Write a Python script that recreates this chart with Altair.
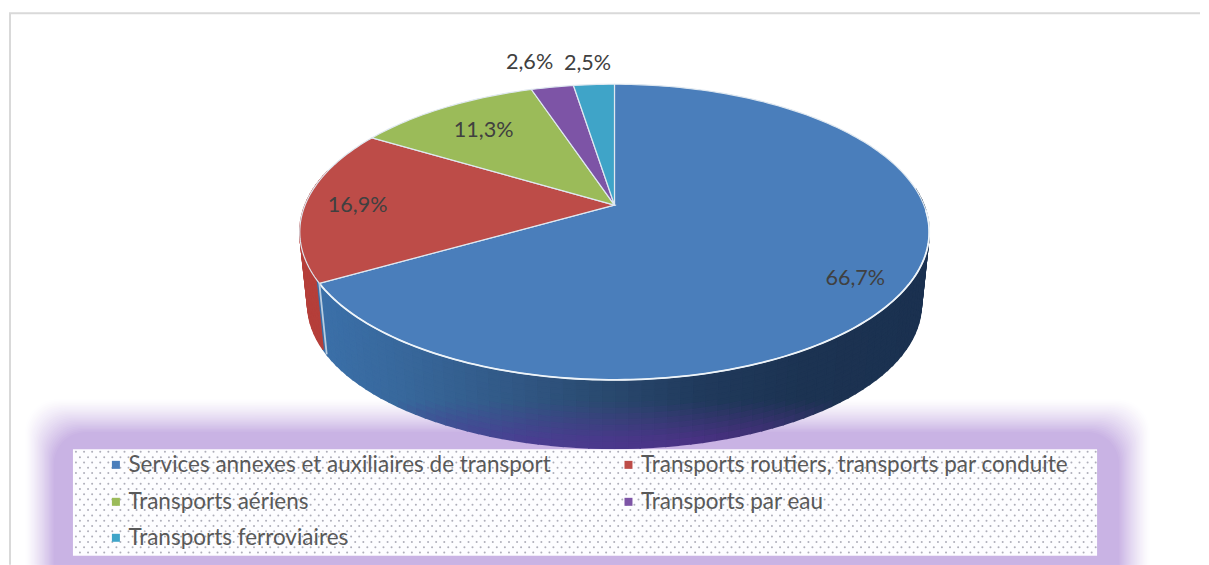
import math
import altair as alt
import pandas as pd

categories = ["Services annexes et auxiliaires de transport",
              "Transports routiers, transports par conduite",
              "Transports aériens", "Transports par eau", "Transports ferroviaires"]
shares = [66.7, 16.9, 11.3, 2.6, 2.5]
labels = ["66,7%", "16,9%", "11,3%", "2,6%", "2,5%"]
colors = ["#4a7ebb", "#bd4c48", "#9bbb59", "#7d54a6", "#3fa4c8"]
label_x = [856, 358, 484, 530, 588]
label_y = [279, 205.5, 130.5, 62.5, 64]
legend_x = [116, 629, 116, 629, 116]
legend_y = [465, 465, 502, 502, 538]

CX, CY, A, B, K = 615.0, 205.0, 309.7, 143.0, 0.1825
DY, S = 73.0, 0.975


def rim(deg, lower=0.0):
    t = math.radians(deg)
    w = 1 + K * math.cos(t)
    s = 1 - (1 - S) * lower
    return [CX + s * A * math.sin(t) / w, CY + DY * lower - s * B * math.cos(t) / w]


def lerp(a, b, t):
    return [a[i] + (b[i] - a[i]) * t for i in range(3)]


def rgb(h):
    return [int(h[i:i + 2], 16) for i in (1, 3, 5)]


def hexc(c):
    return "#%02x%02x%02x" % tuple(int(round(v)) for v in c)


def feature(ring, color, stroke):
    return {"type": "Feature", "geometry": {"type": "Polygon", "coordinates": [ring + [ring[0]]]},
            "properties": {"fill": color, "stroke": stroke}}


def wall_base(x):
    stops = [(300, "#3c72ac"), (400, "#38689c"), (500, "#325a88"), (600, "#2a4a70"),
             (700, "#203a5c"), (800, "#1c3352"), (930, "#1b3150")]
    for (x0, c0), (x1, c1) in zip(stops, stops[1:]):
        if x <= x1:
            return lerp(rgb(c0), rgb(c1), max(0, (x - x0) / (x1 - x0)))
    return rgb(stops[-1][1])


blue_end = shares[0] * 3.6
walls = []
BANDS = 12
deg = 84.0
while deg < 284:
    d2 = deg + 2
    for b in range(BANDS):
        l0, l1 = b / BANDS, (b + 1) / BANDS
        ring = [rim(deg, l0), rim(d2, l0), rim(d2, l1), rim(deg, l1)]
        mx = sum(p[0] for p in ring) / 4
        my = sum(p[1] for p in ring) / 4
        if deg >= blue_end:
            c = rgb("#b53f3a")
        else:
            base = wall_base(mx)
            tgt = lerp(rgb("#4a4196"), rgb("#4a2f80"), min(1, max(0, (mx - 480) / 260)))
            c = lerp(base, tgt, min(1, max(0, (my - 402) / 40)))
        walls.append(feature(ring, hexc(c), hexc(c)))
    deg = d2

faces = []
start = 0.0
for share, col in zip(shares, colors):
    end = start + share * 3.6
    n = max(4, int(share * 3))
    ring = [[CX, CY]] + [rim(start + (end - start) * i / n) for i in range(n + 1)]
    faces.append(feature(ring, col, "#dfe8f0"))
    start = end

front = [rim(92 + (blue_end - 92) * i / 120) for i in range(121)]
edges = [{"type": "Feature", "geometry": {"type": "LineString", "coordinates": front},
          "properties": {"stroke": "#eef4f9"}},
         {"type": "Feature", "geometry": {"type": "LineString",
                                          "coordinates": [rim(blue_end), rim(blue_end, 1)]},
          "properties": {"stroke": "#b9cde0"}}]

proj = alt.Projection(type="identity", scale=1, translate=[-8, -8]).to_dict()
X = alt.Scale(domain=[8, 1201], nice=False, zero=False)
Y = alt.Scale(domain=[565, 8], nice=False, zero=False)


def geo(features, width):
    return alt.Chart(alt.Data(values=features)).mark_geoshape(strokeWidth=width).encode(
        fill=alt.Fill("properties.fill:N", scale=None),
        stroke=alt.Stroke("properties.stroke:N", scale=None),
    ).project(**proj)


edge_l = alt.Chart(alt.Data(values=edges)).mark_geoshape(filled=False, strokeWidth=1.8).encode(
    stroke=alt.Stroke("properties.stroke:N", scale=None)).project(**proj)

frame = pd.DataFrame({"x": [9, 10], "x2": [1201, 10], "y": [13, 13], "y2": [13, 565]})
frame_l = alt.Chart(frame).mark_rule(color="#d9d9d9", strokeWidth=2).encode(
    x=alt.X("x:Q", scale=X, axis=None), x2="x2:Q",
    y=alt.Y("y:Q", scale=Y, axis=None), y2="y2:Q")

glow_rows = []
N = 24
for i in range(N + 1):
    t = i / N
    ease = t ** 1.3
    glow_rows.append({"x": 24 + 30 * t, "x2": 1152 - 32 * t, "y": 398 + 34 * t, "y2": 600,
                      "c": hexc(lerp([255, 255, 255], rgb("#c9b3e4"), ease))})
glow = alt.Chart(pd.DataFrame(glow_rows)).mark_rect(cornerRadius=32, clip=True).encode(
    x=alt.X("x:Q", scale=X, axis=None), x2="x2:Q",
    y=alt.Y("y:Q", scale=Y, axis=None), y2="y2:Q",
    color=alt.Color("c:N", scale=None))

box = pd.DataFrame({"x": [73], "x2": [1098], "y": [449.5], "y2": [556]})
legend_box = alt.Chart(box).mark_rect(color="#fdfdff").encode(
    x=alt.X("x:Q", scale=X, axis=None), x2="x2:Q",
    y=alt.Y("y:Q", scale=Y, axis=None), y2="y2:Q")

dots = []
row = 0
yy = 452.0
while yy < 556:
    xx = 76.0 + (row % 2) * 4.05
    while xx < 1097:
        dots.append({"x": round(xx, 1), "y": round(yy, 1)})
        xx += 8.1
    yy += 5.3
    row += 1
dot_l = alt.Chart(pd.DataFrame(dots)).mark_circle(color="#9a9aa8", size=4, opacity=0.8).encode(
    x=alt.X("x:Q", scale=X, axis=None), y=alt.Y("y:Q", scale=Y, axis=None))

leg = pd.DataFrame({"cat": categories, "c": colors, "x": legend_x, "y": legend_y,
                    "tx": [v + 12.5 for v in legend_x]})
swatch = alt.Chart(leg).mark_square(size=64, opacity=1).encode(
    x=alt.X("x:Q", scale=X, axis=None), y=alt.Y("y:Q", scale=Y, axis=None),
    color=alt.Color("c:N", scale=None))
leg_text = alt.Chart(leg).mark_text(align="left", baseline="middle", font="Lato", fontSize=22.5,
                                    color="#595959").encode(
    x=alt.X("tx:Q", scale=X, axis=None), y=alt.Y("y:Q", scale=Y, axis=None), text="cat:N")

lab = pd.DataFrame({"t": labels, "x": label_x, "y": label_y})
lab_text = alt.Chart(lab).mark_text(align="center", baseline="middle", font="Lato", fontSize=21.6,
                                    color="#404040").encode(
    x=alt.X("x:Q", scale=X, axis=None), y=alt.Y("y:Q", scale=Y, axis=None), text="t:N")

chart = alt.layer(frame_l, glow, geo(walls, 1.5), geo(faces, 1.2), edge_l, legend_box, dot_l,
                  swatch, leg_text, lab_text).resolve_scale(
    x="shared", y="shared").properties(width=1193, height=557, padding=0,
                                       background="white").configure_view(stroke=None)
chart.save("out.html", embed_options={"renderer": "svg", "actions": False})
